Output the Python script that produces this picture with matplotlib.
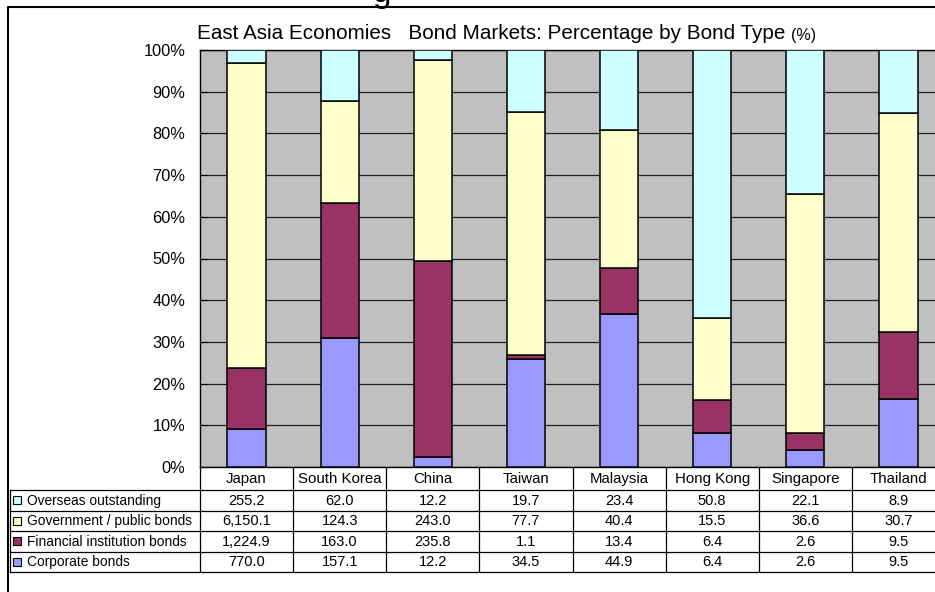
import numpy as np
import matplotlib
matplotlib.use('Agg')
import matplotlib.pyplot as plt
from matplotlib.patches import Rectangle
from matplotlib.ticker import PercentFormatter
from matplotlib.transforms import blended_transform_factory

plt.rcParams['font.family'] = ['Liberation Sans', 'DejaVu Sans']

# Data (values from the data table, bars are the share of each country's total)
countries = ['Japan', 'South Korea', 'China', 'Taiwan', 'Malaysia', 'Hong Kong', 'Singapore', 'Thailand']
overseas = [255.2, 62.0, 12.2, 19.7, 23.4, 50.8, 22.1, 8.9]
government = [6150.1, 124.3, 243.0, 77.7, 40.4, 15.5, 36.6, 30.7]
financial = [1224.9, 163.0, 235.8, 1.1, 13.4, 6.4, 2.6, 9.5]
corporate = [770.0, 157.1, 12.2, 34.5, 44.9, 6.4, 2.6, 9.5]

series_names = ['Corporate bonds', 'Financial institution bonds', 'Government / public bonds', 'Overseas outstanding']
series_vals = [corporate, financial, government, overseas]
series_cols = ['#9999FF', '#993366', '#FFFFCC', '#CCFFFF']

W, H = 935, 592
fig = plt.figure(figsize=(W / 100, H / 100), dpi=100)

# plot area in pixel terms (right side runs off the picture)
left, right, top, bottom = 200, 945, 50, 467
ax = fig.add_axes([left / W, 1 - bottom / H, (right - left) / W, (bottom - top) / H])
ax.set_facecolor('#C0C0C0')

x = np.arange(len(countries))
totals = np.sum(np.array(series_vals), axis=0)
base = np.zeros(len(countries))
for vals, col in zip(series_vals, series_cols):
    share = np.array(vals) / totals
    ax.bar(x, share, width=0.41, bottom=base, color=col, edgecolor='black', linewidth=1.1, zorder=3)
    base += share

ax.set_xlim(-0.5, len(countries) - 0.5)
ax.set_ylim(0, 1)
ax.set_yticks(np.arange(0, 1.01, 0.1))
ax.yaxis.set_major_formatter(PercentFormatter(1.0, decimals=0))
ax.tick_params(axis='y', direction='in', length=5, pad=10.5, labelsize=11.8, width=0.8)
ax.set_xticks([])
ax.grid(axis='y', color='#202020', linewidth=0.9, zorder=1)
for s in ax.spines.values():
    s.set_linewidth(1.0)
    s.set_color('black')

# overlay in pixel coordinates for frame, title and data table
ov = fig.add_axes([0, 0, 1, 1], facecolor='none')
ov.set_xlim(0, W)
ov.set_ylim(H, 0)
ov.axis('off')

# outer chart frame
ov.plot([8, 8, W + 5], [H + 5, 7, 7], color='black', linewidth=1.5, clip_on=False)

# cut-off main title above the frame
ov.text(382, 2, 'g', fontsize=24, ha='center', va='baseline', clip_on=False)

t1 = ov.text(197, 39, 'East Asia Economies   Bond Markets: Percentage by Bond Type ',
             fontsize=14.9, ha='left', va='baseline')
ov.annotate('(%)', xy=(1, 0), xycoords=t1, fontsize=11.5, ha='left', va='bottom')

# data table
trans = blended_transform_factory(ax.transData, ov.transData)
row_lines = [490, 510.5, 531, 551.5, 572]
for yl in row_lines:
    ov.plot([10, right], [yl, yl], color='black', linewidth=0.9, clip_on=False)
ov.plot([10, 10], [row_lines[0], row_lines[-1]], color='black', linewidth=0.9)
for b in np.arange(len(countries) + 1) - 0.5:
    ov.plot([b, b], [bottom, row_lines[-1]], color='black', linewidth=0.9,
            transform=trans, clip_on=False)

for i, c in enumerate(countries):
    ov.text(i, 479, c, fontsize=10.8, ha='center', va='center', transform=trans)

rows = list(zip(series_names, series_vals, series_cols))[::-1]
for r, (name, vals, col) in enumerate(rows):
    yc = (row_lines[r] + row_lines[r + 1]) / 2
    ov.add_patch(Rectangle((13, yc - 4), 8, 8, facecolor=col, edgecolor='black', linewidth=0.8))
    ov.text(27, yc + 0.5, name, fontsize=9.9, ha='left', va='center')
    for i, v in enumerate(vals):
        ov.text(i, yc + 0.5, f'{v:,.1f}', fontsize=10.5, ha='center', va='center', transform=trans)

fig.savefig('out.png', dpi=100)
